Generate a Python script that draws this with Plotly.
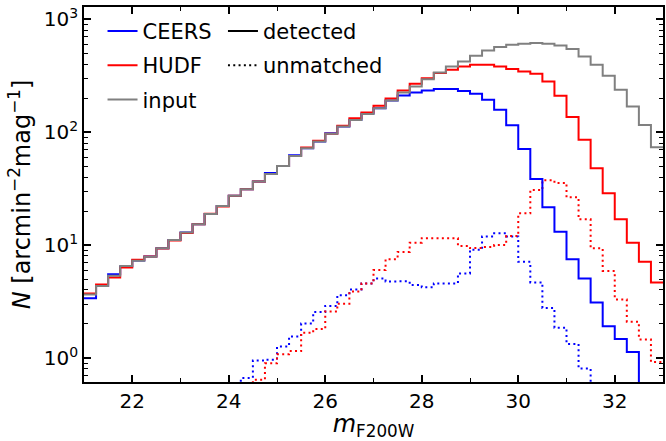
import numpy as np
import plotly.graph_objects as go

# Magnitude bins (0.25 mag wide) spanning 21-33
bin_edges = np.linspace(21.0, 33.0, 49)

# Number counts per bin [arcmin^-2 mag^-1]; 0 = empty bin
ceers_detected = [3.37, 4.33, 5.5, 6.45, 7.3, 7.9, 9.35, 11.1, 12.9, 15.3, 18.8, 22.2,
                  27.4, 31.2, 36.5, 43.5, 50.2, 62.5, 72, 82.6, 98, 112, 129, 146,
                  163, 191, 211, 225, 234, 241, 241, 232, 219, 194, 158, 115,
                  71, 38.5, 21.6, 13.1, 7.5, 5.06, 3.1, 1.91, 1.47, 1.13, 0, 0]
hudf_detected = [3.72, 4.48, 5.17, 6.34, 7.4, 7.9, 9.3, 11.0, 12.8, 15.3, 18.9, 22.0,
                 27.4, 31.2, 36.5, 42.5, 50.2, 61.5, 73, 84, 96.6, 114, 133, 149,
                 171, 199, 234, 268, 301, 334, 357, 382, 395, 395, 382, 362,
                 345, 329, 281, 210, 136, 85.5, 48, 28.8, 16.9, 10.5, 7.1, 4.67]
input_counts = [3.65, 4.33, 5.34, 6.51, 7.26, 7.87, 9.35, 11.1, 12.9, 15.3, 18.8, 22.2,
                27.4, 31.2, 36.5, 42.7, 50.2, 61.6, 72, 82.6, 96.6, 112, 128, 145,
                163, 191, 225, 254, 295, 338, 382, 423, 475, 530, 568, 595,
                607, 616, 607, 587, 545, 469, 395, 316, 237, 169, 116, 73.6]
ceers_unmatched = [0, 0, 0, 0, 0, 0, 0, 0, 0, 0, 0, 0,
                   0, 0.665, 0.95, 0.965, 1.26, 1.55, 2.02, 2.55, 2.89, 3.6, 4.04, 4.57,
                   5.06, 4.76, 4.77, 4.42, 4.22, 4.57, 4.57, 5.61, 9.1, 11.9, 12.7, 11.9,
                   7.1, 4.67, 2.77, 1.85, 1.33, 0.805, 0, 0, 0, 0, 0, 0]
hudf_unmatched = [0, 0, 0, 0, 0, 0, 0, 0, 0, 0, 0, 0,
                  0, 0, 0.64, 0.895, 1.08, 1.15, 1.67, 1.8, 2.58, 3.02, 3.88, 4.57,
                  6.0, 7.5, 8.7, 10.5, 11.5, 11.5, 11.5, 9.8, 9.4, 9.6, 10.0, 12.0,
                  19.1, 30.8, 37.5, 35.5, 26.5, 16.9, 9.35, 5.9, 3.3, 2.09, 1.46, 0.92]

FLOOR = 1e-3  # empty bins drop off the bottom of the log axis


def step_y(counts):
    vals = [c if c > 0 else FLOOR for c in counts]
    return vals + [vals[-1]]


fig = go.Figure()

dot = "2px,3.3px"
# unmatched (dotted) histograms
fig.add_trace(go.Scatter(x=bin_edges, y=step_y(ceers_unmatched), mode="lines", line_shape="hv",
                         line=dict(color="blue", width=2, dash=dot), showlegend=False))
fig.add_trace(go.Scatter(x=bin_edges, y=step_y(hudf_unmatched), mode="lines", line_shape="hv",
                         line=dict(color="red", width=2, dash=dot), showlegend=False))
# detected and input (solid) histograms
fig.add_trace(go.Scatter(x=bin_edges, y=step_y(ceers_detected), mode="lines", line_shape="hv",
                         line=dict(color="blue", width=2), name="CEERS", legend="legend",
                         legendgroup="a"))
fig.add_trace(go.Scatter(x=bin_edges, y=step_y(hudf_detected), mode="lines", line_shape="hv",
                         line=dict(color="red", width=2), name="HUDF", legend="legend",
                         legendgroup="b"))
fig.add_trace(go.Scatter(x=bin_edges, y=step_y(input_counts), mode="lines", line_shape="hv",
                         line=dict(color="gray", width=2), name="input", legend="legend",
                         legendgroup="c"))

# line-style key
fig.add_trace(go.Scatter(x=[None], y=[None], mode="lines", line=dict(color="black", width=2),
                         name="detected", legend="legend2", legendgroup="d"))
fig.add_trace(go.Scatter(x=[None], y=[None], mode="lines",
                         line=dict(color="black", width=2, dash=dot),
                         name="unmatched", legend="legend2", legendgroup="e"))

minor_y = [m * 10.0 ** e for e in range(-1, 4) for m in range(2, 10)]
legend_common = dict(bgcolor="rgba(0,0,0,0)", borderwidth=0, font=dict(size=21),
                     xanchor="left", yanchor="top", tracegroupgap=4)

fig.update_layout(
    width=666, height=441,
    margin=dict(l=84, r=1, t=7, b=59),
    paper_bgcolor="white", plot_bgcolor="white",
    font=dict(family="DejaVu Sans", size=20, color="black"),
    xaxis=dict(
        range=[21, 33], tickvals=[22, 24, 26, 28, 30, 32],
        ticks="inside", ticklen=7, tickwidth=1.5, tickcolor="black",
        mirror="allticks", showline=True, linewidth=1.6, linecolor="black",
        showgrid=False, zeroline=False,
        minor=dict(tickvals=[21, 23, 25, 27, 29, 31, 33], ticks="inside",
                   ticklen=4, tickwidth=1.2, tickcolor="black", showgrid=False),
        title=dict(text="<i>m</i><sub>F200W</sub>", standoff=8),
    ),
    yaxis=dict(
        type="log", range=[np.log10(0.612), np.log10(1285)],
        tickvals=[1, 10, 100, 1000],
        ticktext=["10<sup>0</sup>", "10<sup>1</sup>", "10<sup>2</sup>", "10<sup>3</sup>"],
        ticks="inside", ticklen=7, tickwidth=1.5, tickcolor="black",
        mirror="allticks", showline=True, linewidth=1.6, linecolor="black",
        showgrid=False, zeroline=False,
        minor=dict(tickvals=minor_y, ticks="inside", ticklen=4, tickwidth=1.2,
                   tickcolor="black", showgrid=False),
        title=dict(text="<i>N</i> [arcmin<sup>\u22122</sup>mag<sup>\u22121</sup>]", standoff=6),
    ),
    legend=dict(x=0.032, y=0.99, **legend_common),
    legend2=dict(x=0.24, y=0.99, **legend_common),
)

fig.write_html("out.html")
